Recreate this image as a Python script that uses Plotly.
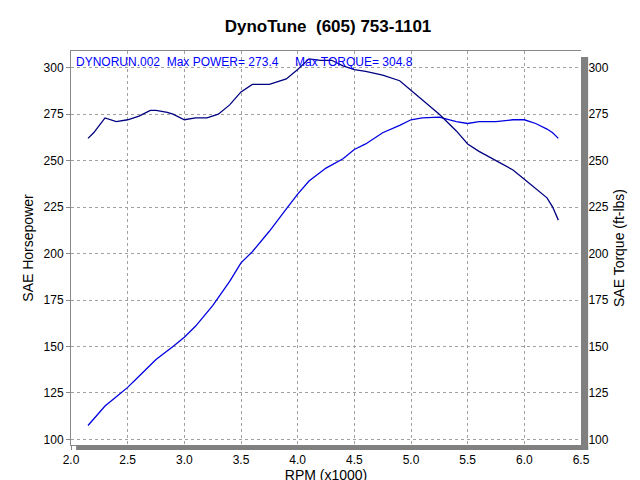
import plotly.graph_objects as go

# Power (SAE HP) vs RPM (x1000)
hp_rpm = [2.15, 2.2, 2.3, 2.4, 2.5, 2.6, 2.75, 2.9, 3.0, 3.1, 3.25, 3.4, 3.5, 3.6, 3.75, 3.9, 4.0,
          4.1, 4.25, 4.4, 4.5, 4.6, 4.75, 4.9, 5.0, 5.1, 5.25, 5.4, 5.5, 5.6, 5.75, 5.9, 6.0, 6.1,
          6.2, 6.25, 6.3]
hp = [107.5, 111, 118, 123, 128, 134, 143, 150, 155, 161, 172, 185, 195, 201, 212, 224, 232,
      239, 246, 251, 256, 259, 265, 269, 272, 273, 273.4, 271, 270, 271, 271, 272, 272, 270,
      267, 265, 262]

# Torque (ft-lbs) vs RPM (x1000)
tq_rpm = [2.15, 2.2, 2.25, 2.3, 2.4, 2.5, 2.6, 2.7, 2.75, 2.85, 2.9, 3.0, 3.1, 3.2, 3.3, 3.4, 3.5,
          3.6, 3.75, 3.9, 4.0, 4.1, 4.2, 4.3, 4.4, 4.5, 4.6, 4.75, 4.9, 5.0, 5.1, 5.25, 5.4, 5.5,
          5.6, 5.75, 5.9, 6.0, 6.1, 6.2, 6.25, 6.3]
tq = [262, 265, 269, 273, 271, 272, 274, 277, 277, 276, 275, 272, 273, 273, 275, 280, 287,
      291, 291, 294, 299, 304.8, 304, 304, 301, 299, 298, 296, 293, 288, 283, 275, 266, 259,
      255, 250, 245, 240, 235, 230, 225, 218]

fig = go.Figure()
fig.add_trace(go.Scatter(x=hp_rpm, y=hp, mode='lines', line=dict(color='#0000e0', width=1.3)))
fig.add_trace(go.Scatter(x=tq_rpm, y=tq, mode='lines', yaxis='y2',
                         line=dict(color='#000080', width=1.3)))

grid = dict(showgrid=True, gridcolor='#a0a0a0', griddash='3px,3px', gridwidth=1, zeroline=False,
            ticks='outside', ticklen=4, tickcolor='#888', showline=True, linecolor='#888',
            automargin=False)
fig.update_layout(
    width=640, height=480, showlegend=False,
    plot_bgcolor='white', paper_bgcolor='white',
    font=dict(family='Liberation Sans, Arial', size=12, color='black'),
    margin=dict(l=63, r=67, t=43, b=43),
    title=dict(text='<b>DynoTune  (605) 753-1101</b>', x=0.5, y=0.975, xanchor='center',
               font=dict(size=17)),
    xaxis=dict(range=[2.0, 6.5], dtick=0.5, tickformat='.1f', mirror=True,
               title=dict(text='RPM (x1000)', standoff=2), **grid),
    yaxis=dict(range=[97, 309], dtick=25, title=dict(text='SAE Horsepower', standoff=6), **grid),
    yaxis2=dict(range=[97, 309], dtick=25, overlaying='y', side='right', showgrid=False,
                zeroline=False, ticks='outside', ticklen=4, tickcolor='#888', automargin=False,
                title=dict(text='SAE Torque (ft-lbs)', standoff=6)),
)
fig.add_annotation(text='DYNORUN.002  Max POWER= 273.4     Max TORQUE= 304.8',
                   xref='paper', yref='paper', x=0.005, y=0.995, xanchor='left', yanchor='top',
                   showarrow=False, font=dict(color='#0000ff', size=12))
# drop shadow on right and bottom of plot frame
fig.add_shape(type='rect', xref='paper', yref='paper', x0=1.0, x1=1.014, y0=-0.013, y1=0.985,
              fillcolor='#808080', line_width=0)
fig.add_shape(type='rect', xref='paper', yref='paper', x0=0.01, x1=1.014, y0=-0.013, y1=0.0,
              fillcolor='#808080', line_width=0)
fig.write_html("out.html")
